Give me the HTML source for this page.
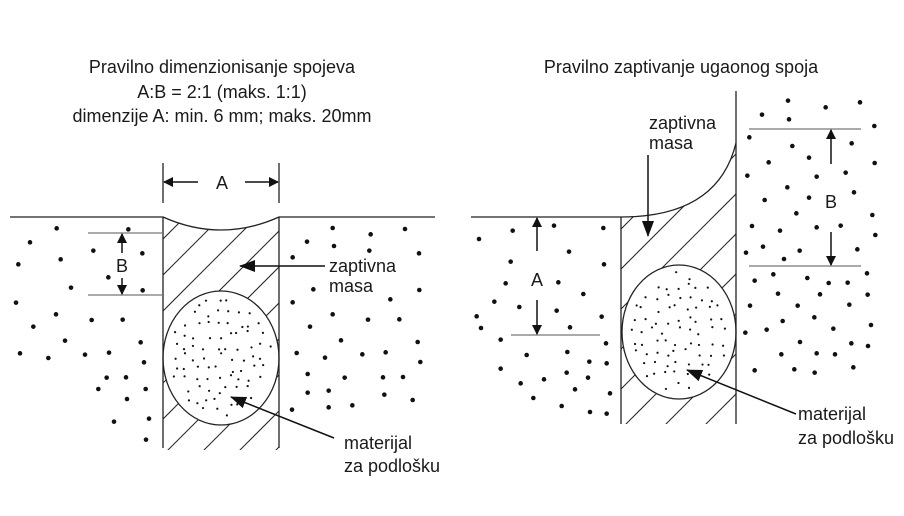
<!DOCTYPE html>
<html><head><meta charset="utf-8"><style>
html,body{margin:0;padding:0;background:#fff}
svg{display:block}
text{font-family:"Liberation Sans",sans-serif;fill:#1a1a1a}
</style></head><body>
<svg id="s" width="904" height="516" viewBox="0 0 904 516" xmlns="http://www.w3.org/2000/svg">
<defs>
<marker id="ah" markerWidth="10" markerHeight="10" refX="9" refY="5" orient="auto" markerUnits="userSpaceOnUse"><path d="M0,0 L10,5 L0,10 Z" fill="#111"/></marker>
<marker id="ah2" markerWidth="16" markerHeight="12" refX="15" refY="6" orient="auto" markerUnits="userSpaceOnUse"><path d="M0,0 L16,6 L0,12 Z" fill="#111"/></marker>
<clipPath id="c1"><path clip-rule="evenodd" d="M163,217 Q221,243 279,217 L279,450 L163,450 Z M163,358 a58,67 0 1,0 116,0 a58,67 0 1,0 -116,0 Z"/></clipPath>
<clipPath id="c2"><path clip-rule="evenodd" d="M621,217 Q718,217 736,143 L736,424 L621,424 Z M622,332 a57,67 0 1,0 114,0 a57,67 0 1,0 -114,0 Z"/></clipPath>
</defs>
<g font-size="18" text-anchor="middle">
<text x="222" y="73">Pravilno dimenzionisanje spojeva</text>
<text x="222" y="98">A:B = 2:1 (maks. 1:1)</text>
<text x="222" y="122">dimenzije A: min. 6 mm; maks. 20mm</text>
<text x="681" y="73">Pravilno zaptivanje ugaonog spoja</text>
</g>
<g id="hatch1" clip-path="url(#c1)" stroke="#222" stroke-width="1"></g>
<g id="hatch2" clip-path="url(#c2)" stroke="#222" stroke-width="1"></g>
<g fill="none" stroke="#222" stroke-width="1.3">
<path d="M10,217 H163 Q221,243 279,217 H435"/>
<line x1="163" y1="163" x2="163" y2="203"/><line x1="279" y1="163" x2="279" y2="203"/>
<line x1="163" y1="217" x2="163" y2="448"/><line x1="279" y1="217" x2="279" y2="448"/>
<ellipse cx="221" cy="358" rx="58" ry="67"/>
<path d="M471,217 H621 Q718,217 736,143"/>
<line x1="621" y1="217" x2="621" y2="424"/><line x1="736" y1="91" x2="736" y2="424"/>
<ellipse cx="679" cy="332" rx="57" ry="67"/>
</g>
<g stroke="#555" stroke-width="1">
<line x1="88" y1="233" x2="162" y2="233"/><line x1="88" y1="295" x2="162" y2="295"/>
<line x1="511" y1="335" x2="600" y2="335"/>
<line x1="749" y1="129" x2="861" y2="129"/><line x1="749" y1="266" x2="861" y2="266"/>
</g>
<g stroke="#111" stroke-width="1.5">
<line x1="198" y1="182" x2="164" y2="182" marker-end="url(#ah)"/>
<line x1="245" y1="182" x2="278" y2="182" marker-end="url(#ah)"/>
<line x1="122" y1="253" x2="122" y2="234" marker-end="url(#ah)"/>
<line x1="122" y1="278" x2="122" y2="294" marker-end="url(#ah)"/>
<line x1="537" y1="251" x2="537" y2="218" marker-end="url(#ah)"/>
<line x1="537" y1="300" x2="537" y2="334" marker-end="url(#ah)"/>
<line x1="831" y1="164" x2="831" y2="130" marker-end="url(#ah)"/>
<line x1="831" y1="232" x2="831" y2="265" marker-end="url(#ah)"/>
<line x1="325" y1="266" x2="240" y2="266" marker-end="url(#ah2)"/>
<line x1="334" y1="438" x2="231" y2="397" marker-end="url(#ah2)"/>
<line x1="648" y1="155" x2="648" y2="236" marker-end="url(#ah2)"/>
<line x1="796" y1="414" x2="687" y2="370" marker-end="url(#ah2)"/>
</g>
<g font-size="18">
<text x="222" y="189" text-anchor="middle">A</text>
<text x="122" y="272" text-anchor="middle">B</text>
<text x="537" y="286" text-anchor="middle">A</text>
<text x="831" y="208" text-anchor="middle">B</text>
<text x="329" y="272">zaptivna</text><text x="329" y="292">masa</text>
<text x="649" y="129">zaptivna</text><text x="649" y="149">masa</text>
<text x="344" y="449">materijal</text><text x="344" y="472">za podlošku</text>
<text x="798" y="420">materijal</text><text x="798" y="444">za podlošku</text>
</g>
<g id="dots" fill="#111"></g>
</svg>
<script>
var NS="http://www.w3.org/2000/svg";
function el(p,t,a){var e=document.createElementNS(NS,t);for(var k in a)e.setAttribute(k,a[k]);p.appendChild(e);}
var h1=document.getElementById('hatch1'),h2=document.getElementById('hatch2'),d=document.getElementById('dots');
for(var x=-310;x<500;x+=36){el(h1,'line',{x1:x,y1:460,x2:x+300,y2:160});}
for(var x=290;x<1000;x+=40){el(h2,'line',{x1:x,y1:440,x2:x+320,y2:120});}
var L1=[[170,205],[385,208],[90,247],[280,272],[427,280],[55,313],[182,298],[325,352],[213,383],[428,391],[48,428],[168,463],[275,480],[368,479],[100,500],[195,542],[422,547],[60,580],[145,594],[255,584],[327,578],[432,607],[320,653],[378,652],[295,687],[437,687],[381,717],[342,785],[447,776],[438,839],
[998,204],[1112,223],[1215,207],[921,245],[1002,258],[1108,272],[1257,280],[878,292],[940,388],[1258,390],[1171,418],[878,427],[998,463],[1104,479],[1198,478],[930,500],[1023,541],[1253,546],[890,579],[975,593],[1087,583],[1157,577],[1261,606],[923,642],[1034,653],[1149,652],[1209,651],[923,698],[986,692],[1153,704],[1238,720],[876,749],[986,742],[1057,736]];
L1.forEach(function(p){el(d,'circle',{cx:p[0]/3,cy:p[1]/3+160,r:2.3});});
var L2=[[57,477],[158,452],[282,437],[430,444],[152,545],[327,515],[432,553],[137,610],[295,607],[370,642],[103,665],[178,681],[290,692],[50,709],[425,710],[63,744],[330,742],[122,779],[438,790],[200,825],[322,816],[388,845],[122,866],[440,850],[182,910],[252,898],[320,878],[384,893],[345,928],[450,940],[220,954],[305,978],[390,996],[440,1001],
[984,62],[1097,82],[1200,67],[906,104],[987,118],[1243,138],[868,172],[997,198],[1175,190],[926,247],[1047,233],[1244,249],[862,287],[1070,290],[1157,278],[982,322],[914,360],[1047,353],[1182,337],[1009,400],[1237,405],[876,438],[960,452],[1070,442],[1142,437],[1246,465],[858,518],[909,500],[972,537],[1019,512],[1192,508],[940,583],[1221,580],[884,602],[1042,594],[1106,609],[1163,608],[954,641],[1080,643],[1223,644],[870,677],[1013,677],[1168,674],[1063,712],[968,723],[1233,735],[856,758],[920,749],[1120,746],[1020,786],[1174,790],[1224,798],[964,823],[1070,820],[1125,823],[884,871],[1003,868],[1064,878],[1180,862]];
L2.forEach(function(p){el(d,'circle',{cx:p[0]/3+460,cy:p[1]/3+80,r:2.3});});
var seed=7;function r(){seed=(seed*16807)%2147483647;return seed/2147483647;}
function fill(cx,cy,rx,ry){for(var gy=-ry;gy<=ry;gy+=11){for(var gx=-rx;gx<=rx;gx+=11){var x=gx+(r()-0.5)*8,y=gy+(r()-0.5)*8;var u=x/rx,v=y/ry;if(u*u+v*v<0.8){el(d,'circle',{cx:cx+x,cy:cy+y,r:1.1});}}}}
fill(221,358,58,67);fill(679,332,57,67);
</script>
</body></html>
